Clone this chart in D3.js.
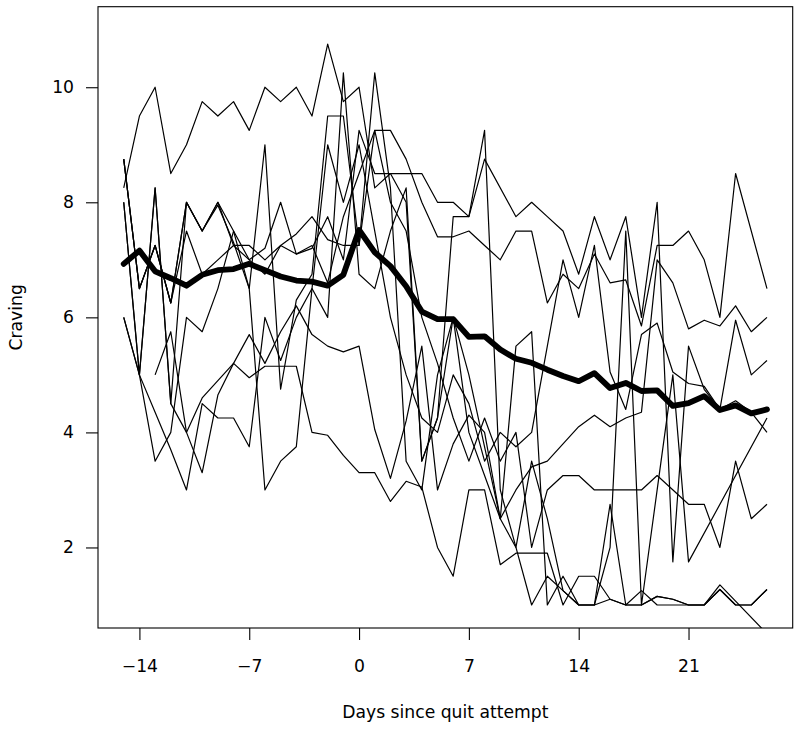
<!DOCTYPE html>
<html>
<head>
<meta charset="utf-8">
<script src="https://cdn.jsdelivr.net/npm/d3@7"></script>
<style>
	body { margin: 0; background: #fff; }
	svg text { font-family: 'DejaVu Sans', sans-serif; fill: #000; }
</style>
</head>
<body>
<svg id="chart"></svg>
<script>
// days since quit attempt (one entry per column of the subject arrays)
const days = [
	-15, -14, -13, -12, -11, -10, -9, -8, -7, -6, -5, -4, -3, -2, -1, 0,
	1, 2, 3, 4, 5, 6, 7, 8, 9, 10, 11, 12, 13, 14, 15, 16, 17, 18, 19, 20,
	21, 22, 23, 24, 25, 26,
];

// craving ratings of the individual subjects, null = no rating that day
const subject1 = [
	8.25, 9.5, 10, 8.5, 9, 9.75, 9.5, 9.75, 9.25, 10, 9.75, 10, 9.5, 10.75, 9.75, 10,
	8.25, 8.5, 8.5, 8.5, 8, 8, 7.75, 8.75, null, 7.75,
	8, 7.75, 7.5, 6.75, 7.75, 7, 7.75, 6, 8, 1.75,
	5.5, 4.75, 4.4, 5.95, 5, 5.25,
];
const subject2 = [
	8.75, 6.5, 7.25, 6.25, 7.5, 6.75, 7, 7.25, 7.25, 7, 7.25, 7.45, 7.75, 7.35, 7.25, 7.25,
	9.25, 9.25, 8.75, 8, 7.4, 7.4, 7.5, 7.25, 7, 7.5,
	7.5, 6.25, 6.75, 6.5, 7.1, 6.6, 6.65, 5.85, 7.25, 7.25,
	7.5, 7, 6, 8.5, null, 6.5,
];
const subject3 = [
	8, 5, 8.25, 4.5, 8, 7.5, 7.95, 7.3, 6.5, 9, 4.75, 6.3, 6.75, 9.5, 9.5, 7.25,
	10.25, 8.25, 3.5, 3, 5, 6, 4, 3.25, 2.5, 5.5,
	5.75, 1, 1.5, 1, 1, 2.75, 1, 1.25, 1, 1,
	1, 1, 1.35, null, null, 0.5,
];
const subject4 = [
	6, 5, 3.5, 4, 6, 5.75, 6.5, 7.5, 7, 6.75, 7.25, 7.1, 7.25, 6.6, 7.75, 8.5,
	9.25, 8, 7.5, 6, 5.2, 4.25, 3.5, 4.25, 3.5, 4,
	2, 3, 3.25, 3.25, 3, 3, 3, 3, 3.25, null,
	2.75, 2.75, 2, 3.5, 2.5, 2.75,
];
const subject5 = [
	null, null, 5, 5.75, 4, 3.3, 4.65, 5.2, 4.95, 5.15, 5.15, 5.15, 4, 3.95, 3.6, 3.3,
	3.3, 2.8, 3.15, 3.05, 2, 1.5, 3, 3, 1.7, 1.9,
	1.9, 1.9, 1, 1.5, 1.5, 1.1, 1, 1, 1.15, 1.1,
	1, 1, 1.27, 1, 1, 1.27,
];
const subject6 = [
	8, 5, 8.25, 4.5, 4, 4.6, 4.9, 5.2, 5.7, 5.2, 5.75, 6.2, 5.7, 5.5, 5.4, 5.5,
	4.05, 3.2, 4.2, 5.5, 3, 3.8, 4.3, 4, 2.5, 3,
	3.4, 3.5, 3.8, 4.1, 4.3, 4.1, 4.25, 4.35, 7, 6.6,
	5.8, 5.95, 5.85, 6.2, 5.75, 6,
];
const subject7 = [
	6, 5, 4.35, 3.7, 3, 4.5, 4.25, 4.25, 3.75, 6, 5.25, 6, 6.5, 6, 10.25, 6.75,
	6.5, 7.5, 8.25, 3.5, 4.25, 7.75, 7.75, 9.25, 3, 2,
	3.5, 2.5, 1.25, 1, 1, 2, 7.5, 1, 3, 5,
	1.75, null, null, null, null, 4.25,
];
const subject8 = [
	8.75, 6.5, 7.25, 6.25, 8, 7.5, 8, 7.5, 6.5, 3, 3.5, 3.75, 6.5, 9, 8, 9,
	7.5, 6, 5, 4.25, 4, 5, 4.5, 3.5, 4, 3.75,
	4, 5.5, 7, 6, 7.25, 5.05, 4.4, 5.7, 5.9, 5.05,
	4.85, 4.8, 4.4, 4.55, 4.35, 4,
];
const subject9 = [
	8.75, 6.5, 7.25, 6.25, 8, 7.5, 8, 7.25, 7, 7.2, 8, 7.1, 7.2, 7.75, 7, 9.25,
	8.5, 8.5, 8, 3.5, 4.25, 6, 5, 3.75, 2.5, 2,
	1, 1.5, 1.25, 1, 1, 1.1, 1, 1, 1.15, 1.1,
	1, 1, 1.27, 1, 1, 1.27,
];

// mean craving of all subjects on each day
const meanCraving = [
	6.93, 7.16, 6.8, 6.68, 6.55, 6.74, 6.82, 6.84, 6.93, 6.82, 6.71, 6.64, 6.62, 6.55, 6.74, 7.52,
	7.13, 6.89, 6.54, 6.1, 5.97, 5.97, 5.66, 5.67, 5.44, 5.28,
	5.21, 5.09, 4.98, 4.89, 5.03, 4.77, 4.86, 4.72, 4.73, 4.46,
	4.51, 4.63, 4.39, 4.47, 4.33, 4.4,
];

const subjects = [
	subject1, subject2, subject3, subject4, subject5,
	subject6, subject7, subject8, subject9,
];

const xTicks = [-14, -7, 0, 7, 14, 21];
const yTicks = [2, 4, 6, 8, 10];
const yLimits = [1, 11];

class SpaghettiPlot {
	constructor(_config, _subjects, _mean) {
		this.config = {
			parentElement: _config.parentElement,
			containerWidth: 800,
			containerHeight: 732,
			margin: _config.margin || {
				top: 6.7,
				right: 7.3,
				bottom: 104,
				left: 98,
			},
		};
		this.subjects = _subjects;
		this.mean = _mean;
		this.initVis();
	}

	initVis() {
		let vis = this;

		vis.width =
			vis.config.containerWidth -
			vis.config.margin.left -
			vis.config.margin.right;
		vis.height =
			vis.config.containerHeight -
			vis.config.margin.top -
			vis.config.margin.bottom;

		vis.svg = d3
			.select(vis.config.parentElement)
			.attr('width', vis.config.containerWidth)
			.attr('height', vis.config.containerHeight);

		vis.chart = vis.svg
			.append('g')
			.attr(
				'transform',
				`translate(${vis.config.margin.left},${vis.config.margin.top})`
			);

		// R style axis ranges: data range stretched by 4% on each side
		let xExt = d3.extent(days);
		let xPad = (xExt[1] - xExt[0]) * 0.04;
		let yPad = (yLimits[1] - yLimits[0]) * 0.04;

		vis.xScale = d3
			.scaleLinear()
			.domain([xExt[0] - xPad, xExt[1] + xPad])
			.range([0, vis.width]);

		vis.yScale = d3
			.scaleLinear()
			.domain([yLimits[0] - yPad, yLimits[1] + yPad])
			.range([vis.height, 0]);

		vis.chart
			.append('clipPath')
			.attr('id', 'plot-clip')
			.append('rect')
			.attr('width', vis.width)
			.attr('height', vis.height);

		vis.linesG = vis.chart
			.append('g')
			.attr('clip-path', 'url(#plot-clip)');

		vis.line = d3
			.line()
			.x((d) => vis.xScale(d.day))
			.y((d) => vis.yScale(d.value));

		vis.renderVis();
	}

	// missing days are skipped, so the line runs straight across them
	toPoints(values) {
		return values
			.map((v, i) => ({ day: days[i], value: v }))
			.filter((d) => d.value !== null);
	}

	renderVis() {
		let vis = this;

		vis.linesG
			.selectAll('.subject-line')
			.data(vis.subjects)
			.join('path')
			.attr('class', 'subject-line')
			.attr('fill', 'none')
			.attr('stroke', '#000')
			.attr('stroke-width', 1.2)
			.attr('stroke-linejoin', 'round')
			.attr('d', (d) => vis.line(vis.toPoints(d)));

		vis.linesG
			.append('path')
			.attr('class', 'mean-line')
			.attr('fill', 'none')
			.attr('stroke', '#000')
			.attr('stroke-width', 5.8)
			.attr('stroke-linejoin', 'round')
			.attr('stroke-linecap', 'round')
			.attr('d', vis.line(vis.toPoints(vis.mean)));

		// box round the plot region
		vis.chart
			.append('rect')
			.attr('width', vis.width)
			.attr('height', vis.height)
			.attr('fill', 'none')
			.attr('stroke', '#000')
			.attr('stroke-width', 1.1);

		let xAxis = d3
			.axisBottom(vis.xScale)
			.tickValues(xTicks)
			.tickSize(12)
			.tickFormat((d) => (d < 0 ? '\u2212' + Math.abs(d) : d));

		let yAxis = d3
			.axisLeft(vis.yScale)
			.tickValues(yTicks)
			.tickSize(12)
			.tickPadding(12);

		let xAxisG = vis.chart
			.append('g')
			.attr('transform', `translate(0,${vis.height})`)
			.call(xAxis);
		xAxisG.select('.domain').remove();
		xAxisG
			.selectAll('text')
			.attr('y', 44)
			.attr('dy', null)
			.style('font-size', '17.2px');

		let yAxisG = vis.chart.append('g').call(yAxis);
		yAxisG.select('.domain').remove();
		yAxisG.selectAll('text').style('font-size', '17.2px');

		vis.svg
			.selectAll('.tick line')
			.attr('stroke', '#000')
			.attr('stroke-width', 1.1);

		vis.svg
			.append('text')
			.attr('x', vis.config.margin.left + vis.width / 2)
			.attr('y', 717.5)
			.attr('text-anchor', 'middle')
			.style('font-size', '17.2px')
			.text('Days since quit attempt');

		vis.svg
			.append('text')
			.attr(
				'transform',
				`translate(21.5,${vis.config.margin.top + vis.height / 2}) rotate(-90)`
			)
			.attr('text-anchor', 'middle')
			.style('font-size', '17.2px')
			.text('Craving');
	}
}

new SpaghettiPlot({ parentElement: '#chart' }, subjects, meanCraving);
</script>
</body>
</html>
